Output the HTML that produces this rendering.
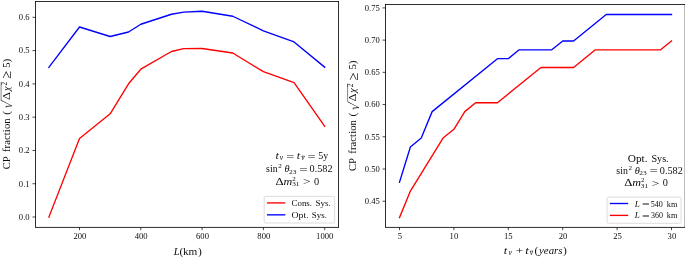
<!DOCTYPE html>
<html><head><meta charset="utf-8"><title>CP fraction</title>
<style>
html,body{margin:0;padding:0;background:#fff;}
svg{display:block;}
text{font-family:"Liberation Serif",serif;fill:#0d0d0d;}
.tk{font-size:8.6px;}
.lb{font-size:10.6px;}
.an{font-size:10.3px;}
.lg{font-size:8.6px;}
.i{font-style:italic;}
.n{font-style:normal;}
</style></head><body>
<svg width="685" height="257" viewBox="0 0 685 257">
<rect x="0" y="0" width="685" height="257" fill="#fff"/>

<rect x="35.5" y="1.45" width="303.1" height="225.9" fill="none" stroke="#000" stroke-width="0.82"/>
<line x1="79.50" y1="227.35" x2="79.50" y2="230.15" stroke="#000" stroke-width="0.72"/>
<text class="tk" x="79.90" y="239.3" text-anchor="middle">200</text>
<line x1="140.80" y1="227.35" x2="140.80" y2="230.15" stroke="#000" stroke-width="0.72"/>
<text class="tk" x="141.20" y="239.3" text-anchor="middle">400</text>
<line x1="202.10" y1="227.35" x2="202.10" y2="230.15" stroke="#000" stroke-width="0.72"/>
<text class="tk" x="202.50" y="239.3" text-anchor="middle">600</text>
<line x1="263.40" y1="227.35" x2="263.40" y2="230.15" stroke="#000" stroke-width="0.72"/>
<text class="tk" x="263.80" y="239.3" text-anchor="middle">800</text>
<line x1="324.70" y1="227.35" x2="324.70" y2="230.15" stroke="#000" stroke-width="0.72"/>
<text class="tk" x="324.70" y="239.3" text-anchor="middle">1000</text>
<line x1="32.5" y1="217.00" x2="35.5" y2="217.00" stroke="#000" stroke-width="0.72"/>
<text class="tk" x="29.6" y="219.80" text-anchor="end">0.0</text>
<line x1="32.5" y1="183.72" x2="35.5" y2="183.72" stroke="#000" stroke-width="0.72"/>
<text class="tk" x="29.6" y="186.52" text-anchor="end">0.1</text>
<line x1="32.5" y1="150.44" x2="35.5" y2="150.44" stroke="#000" stroke-width="0.72"/>
<text class="tk" x="29.6" y="153.24" text-anchor="end">0.2</text>
<line x1="32.5" y1="117.16" x2="35.5" y2="117.16" stroke="#000" stroke-width="0.72"/>
<text class="tk" x="29.6" y="119.96" text-anchor="end">0.3</text>
<line x1="32.5" y1="83.88" x2="35.5" y2="83.88" stroke="#000" stroke-width="0.72"/>
<text class="tk" x="29.6" y="86.68" text-anchor="end">0.4</text>
<line x1="32.5" y1="50.60" x2="35.5" y2="50.60" stroke="#000" stroke-width="0.72"/>
<text class="tk" x="29.6" y="53.40" text-anchor="end">0.5</text>
<line x1="32.5" y1="17.32" x2="35.5" y2="17.32" stroke="#000" stroke-width="0.72"/>
<text class="tk" x="29.6" y="20.12" text-anchor="end">0.6</text>
<polyline fill="none" stroke="#ff0000" stroke-width="1.35" stroke-linejoin="round" stroke-linecap="square" points="48.85,217.20 79.50,138.60 110.15,113.80 128.54,83.80 140.80,69.20 171.45,51.50 183.71,48.60 202.10,48.50 232.75,53.00 263.40,71.70 294.05,82.60 324.70,126.30"/>
<polyline fill="none" stroke="#0000ff" stroke-width="1.35" stroke-linejoin="round" stroke-linecap="square" points="48.85,67.30 79.50,27.00 110.15,36.50 128.54,32.00 140.80,24.25 171.45,14.25 183.71,12.20 202.10,11.25 232.75,16.25 263.40,30.80 294.05,41.90 324.70,67.20"/>
<g transform="translate(9.6,168.9) rotate(-90)"><text class="lb" x="-0.4" y="0">CP</text><text class="lb" x="16.9" y="0" textLength="33.6" lengthAdjust="spacing">fraction</text><text x="54.2" y="0.3" font-size="11.4px">(</text><text font-size="14.2px" transform="translate(59.35,2.5) skewX(-13.4) scale(0.9,1)" x="0" y="0">√</text><line x1="68.9" y1="-8.5" x2="87.1" y2="-8.5" stroke="#0d0d0d" stroke-width="0.5"/><text class="lb" transform="translate(69.0,0) scale(1.18,1)" x="0" y="0">Δ</text><text class="lb i" x="77.9" y="0">χ</text><text x="83.4" y="-2.8" font-size="7.2px">2</text><text x="90.4" y="1.5" font-size="14.5px">≥</text><text class="lb" x="101.2" y="0">5</text><text x="106.4" y="0.3" font-size="11.4px">)</text></g>
<text x="173.72" y="254.50" font-size="10.6px" font-style="italic">L</text><text x="179.40" y="254.80" font-size="11.4px">(</text><text transform="translate(182.99,254.50) scale(1.062,1)" font-size="10.6px">km</text><text x="197.93" y="254.80" font-size="11.4px">)</text>
<text transform="translate(275.46,158.70) scale(1.185,1)" font-size="10.3px" font-style="italic">t</text><text x="279.80" y="160.20" font-size="7.5px" font-style="italic">ν</text><text transform="translate(286.29,159.50) scale(1.377,1)" font-size="10.3px">=</text><text transform="translate(296.78,158.70) scale(1.147,1)" font-size="10.3px" font-style="italic">t</text><text x="301.30" y="160.20" font-size="7.5px" font-style="italic">ν</text><line x1="301.70" y1="156.20" x2="304.50" y2="156.20" stroke="#0d0d0d" stroke-width="0.5"/><text transform="translate(307.39,159.50) scale(1.377,1)" font-size="10.3px">=</text><text transform="translate(318.22,158.70) scale(0.973,1)" font-size="10.3px">5y</text>
<text transform="translate(266.10,171.90) scale(0.953,1)" font-size="10.3px">sin</text><text x="278.19" y="168.40" font-size="7.0px">2</text><text x="284.40" y="171.90" font-size="10.3px" font-style="italic">θ</text><text transform="translate(288.97,173.50) scale(1.059,1)" font-size="7.0px">23</text><text transform="translate(299.16,172.70) scale(1.440,1)" font-size="10.3px">=</text><text transform="translate(309.61,171.90) scale(0.990,1)" font-size="10.3px">0.582</text>
<text transform="translate(275.62,184.60) scale(1.232,1)" font-size="10.3px">Δ</text><text transform="translate(283.56,184.60) scale(1.176,1)" font-size="10.3px" font-style="italic">m</text><text x="292.19" y="180.70" font-size="7.0px">2</text><text transform="translate(292.16,186.40) scale(1.025,1)" font-size="7.0px">31</text><text transform="translate(303.01,185.40) scale(1.314,1)" font-size="10.3px">&gt;</text><text x="314.01" y="184.60" font-size="10.3px">0</text>
<rect x="264.2" y="196.4" width="70.40000000000003" height="26.599999999999994" rx="1.4" ry="1.4" fill="#fff" fill-opacity="0.8" stroke="#d4d4d4" stroke-width="0.8"/><line x1="267.0" y1="202.9" x2="285.3" y2="202.9" stroke="#ff0000" stroke-width="1.35"/><text transform="translate(291.53,206.20) scale(1.036,1)" font-size="8.6px">Cons.</text><text transform="translate(315.39,206.20) scale(1.057,1)" font-size="8.6px">Sys.</text><line x1="267.0" y1="214.85" x2="285.3" y2="214.85" stroke="#0000ff" stroke-width="1.35"/><text transform="translate(291.50,217.70) scale(1.139,1)" font-size="8.6px">Opt.</text><text transform="translate(311.70,217.70) scale(1.042,1)" font-size="8.6px">Sys.</text>
<rect x="385.55" y="4.5" width="299.59999999999997" height="222.85" fill="none" stroke="#000" stroke-width="0.82"/>
<line x1="399.50" y1="227.35" x2="399.50" y2="230.15" stroke="#000" stroke-width="0.72"/>
<text class="tk" x="399.90" y="239.3" text-anchor="middle">5</text>
<line x1="453.90" y1="227.35" x2="453.90" y2="230.15" stroke="#000" stroke-width="0.72"/>
<text class="tk" x="453.90" y="239.3" text-anchor="middle">10</text>
<line x1="508.30" y1="227.35" x2="508.30" y2="230.15" stroke="#000" stroke-width="0.72"/>
<text class="tk" x="508.30" y="239.3" text-anchor="middle">15</text>
<line x1="562.70" y1="227.35" x2="562.70" y2="230.15" stroke="#000" stroke-width="0.72"/>
<text class="tk" x="563.10" y="239.3" text-anchor="middle">20</text>
<line x1="617.10" y1="227.35" x2="617.10" y2="230.15" stroke="#000" stroke-width="0.72"/>
<text class="tk" x="617.50" y="239.3" text-anchor="middle">25</text>
<line x1="671.50" y1="227.35" x2="671.50" y2="230.15" stroke="#000" stroke-width="0.72"/>
<text class="tk" x="671.90" y="239.3" text-anchor="middle">30</text>
<line x1="382.55" y1="201.22" x2="385.55" y2="201.22" stroke="#000" stroke-width="0.72"/>
<text class="tk" x="379.8" y="204.02" text-anchor="end">0.45</text>
<line x1="382.55" y1="169.00" x2="385.55" y2="169.00" stroke="#000" stroke-width="0.72"/>
<text class="tk" x="379.8" y="171.80" text-anchor="end">0.50</text>
<line x1="382.55" y1="136.78" x2="385.55" y2="136.78" stroke="#000" stroke-width="0.72"/>
<text class="tk" x="379.8" y="139.58" text-anchor="end">0.55</text>
<line x1="382.55" y1="104.56" x2="385.55" y2="104.56" stroke="#000" stroke-width="0.72"/>
<text class="tk" x="379.8" y="107.36" text-anchor="end">0.60</text>
<line x1="382.55" y1="72.34" x2="385.55" y2="72.34" stroke="#000" stroke-width="0.72"/>
<text class="tk" x="379.8" y="75.14" text-anchor="end">0.65</text>
<line x1="382.55" y1="40.12" x2="385.55" y2="40.12" stroke="#000" stroke-width="0.72"/>
<text class="tk" x="379.8" y="42.92" text-anchor="end">0.70</text>
<line x1="382.55" y1="7.90" x2="385.55" y2="7.90" stroke="#000" stroke-width="0.72"/>
<text class="tk" x="379.8" y="10.70" text-anchor="end">0.75</text>
<polyline fill="none" stroke="#0000ff" stroke-width="1.35" stroke-linejoin="round" stroke-linecap="square" points="399.50,182.24 410.38,146.93 421.26,138.10 432.14,111.62 497.42,58.66 508.30,58.66 519.18,49.83 551.82,49.83 562.70,41.00 573.58,41.00 606.22,14.52 671.50,14.52"/>
<polyline fill="none" stroke="#ff0000" stroke-width="1.35" stroke-linejoin="round" stroke-linecap="square" points="399.50,217.55 410.38,191.07 443.02,138.10 453.90,129.28 464.78,111.62 475.66,102.79 497.42,102.79 540.94,67.48 573.58,67.48 595.34,49.83 660.62,49.83 671.50,41.00"/>
<g transform="translate(356.1,170.6) rotate(-90)"><text class="lb" x="-0.4" y="0">CP</text><text class="lb" x="16.9" y="0" textLength="33.6" lengthAdjust="spacing">fraction</text><text x="54.2" y="0.3" font-size="11.4px">(</text><text font-size="14.2px" transform="translate(59.35,2.5) skewX(-13.4) scale(0.9,1)" x="0" y="0">√</text><line x1="68.9" y1="-8.5" x2="87.1" y2="-8.5" stroke="#0d0d0d" stroke-width="0.5"/><text class="lb" transform="translate(69.0,0) scale(1.18,1)" x="0" y="0">Δ</text><text class="lb i" x="77.9" y="0">χ</text><text x="83.4" y="-2.8" font-size="7.2px">2</text><text x="90.4" y="1.5" font-size="14.5px">≥</text><text class="lb" x="101.2" y="0">5</text><text x="106.4" y="0.3" font-size="11.4px">)</text></g>
<text transform="translate(503.85,253.60) scale(1.189,1)" font-size="10.6px" font-style="italic">t</text><text x="508.40" y="255.10" font-size="7.6px" font-style="italic">ν</text><text transform="translate(515.84,254.40) scale(1.257,1)" font-size="10.6px">+</text><text transform="translate(525.13,253.60) scale(1.226,1)" font-size="10.6px" font-style="italic">t</text><text x="529.80" y="255.10" font-size="7.6px" font-style="italic">ν</text><line x1="530.20" y1="251.00" x2="533.20" y2="251.00" stroke="#0d0d0d" stroke-width="0.5"/><text x="534.40" y="253.90" font-size="11.4px">(</text><text transform="translate(539.10,253.60) scale(1.016,1)" font-size="10.6px" font-style="italic">years</text><text x="563.03" y="253.90" font-size="11.4px">)</text>
<text transform="translate(627.74,162.30) scale(1.099,1)" font-size="10.3px">Opt.</text><text transform="translate(651.42,162.30) scale(0.988,1)" font-size="10.3px">Sys.</text>
<text transform="translate(616.35,173.50) scale(0.953,1)" font-size="10.3px">sin</text><text x="628.44" y="170.00" font-size="7.0px">2</text><text x="634.65" y="173.50" font-size="10.3px" font-style="italic">θ</text><text transform="translate(639.22,175.10) scale(1.059,1)" font-size="7.0px">23</text><text transform="translate(649.41,174.30) scale(1.440,1)" font-size="10.3px">=</text><text transform="translate(659.86,173.50) scale(0.990,1)" font-size="10.3px">0.582</text>
<text transform="translate(624.32,185.90) scale(1.232,1)" font-size="10.3px">Δ</text><text transform="translate(632.26,185.90) scale(1.176,1)" font-size="10.3px" font-style="italic">m</text><text x="640.89" y="182.00" font-size="7.0px">2</text><text transform="translate(640.86,187.70) scale(1.025,1)" font-size="7.0px">31</text><text transform="translate(651.71,186.70) scale(1.314,1)" font-size="10.3px">&gt;</text><text x="662.71" y="185.90" font-size="10.3px">0</text>
<rect x="607.1" y="197.1" width="74.0" height="26.200000000000017" rx="1.4" ry="1.4" fill="#fff" fill-opacity="0.8" stroke="#d4d4d4" stroke-width="0.8"/><line x1="609.9" y1="203.5" x2="628.2" y2="203.5" stroke="#0000ff" stroke-width="1.35"/><text transform="translate(634.71,206.70) scale(1.050,1)" font-size="8.6px" font-style="italic">L</text><text transform="translate(641.93,207.40) scale(1.574,1)" font-size="8.6px">=</text><text transform="translate(650.83,206.70) scale(0.936,1)" font-size="8.6px">540</text><text transform="translate(666.74,206.70) scale(0.963,1)" font-size="8.6px">km</text><line x1="609.9" y1="215.4" x2="628.2" y2="215.4" stroke="#ff0000" stroke-width="1.35"/><text transform="translate(634.71,218.40) scale(1.050,1)" font-size="8.6px" font-style="italic">L</text><text transform="translate(641.93,219.10) scale(1.574,1)" font-size="8.6px">=</text><text transform="translate(650.92,218.40) scale(0.929,1)" font-size="8.6px">360</text><text transform="translate(666.74,218.40) scale(0.963,1)" font-size="8.6px">km</text>
</svg></body></html>
